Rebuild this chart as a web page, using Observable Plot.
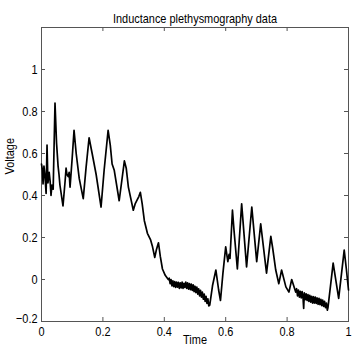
<!DOCTYPE html>
<html>
<head>
<meta charset="utf-8">
<script src="https://cdn.jsdelivr.net/npm/d3@7"></script>
<script src="https://cdn.jsdelivr.net/npm/@observablehq/plot@0.6"></script>
<style>
  html, body { margin: 0; padding: 0; background: #fff; }
</style>
</head>
<body>
<div id="chart"></div>
<script>
const title = "Inductance plethysmography data";
const xLabel = "Time";
const yLabel = "Voltage";
const xTicks = [0, 0.2, 0.4, 0.6, 0.8, 1];
const yTicks = [-0.2, 0, 0.2, 0.4, 0.6, 0.8, 1];

const times = [
  0.000, 0.003, 0.005, 0.008, 0.011, 0.015, 0.018, 0.021, 0.025, 0.028, 0.031, 0.034, 0.038,
  0.044, 0.049, 0.054, 0.057, 0.060, 0.070, 0.077, 0.080, 0.083, 0.087, 0.090, 0.093, 0.100,
  0.106, 0.113, 0.123, 0.136, 0.145, 0.155, 0.165, 0.178, 0.194, 0.204, 0.217, 0.224, 0.230,
  0.237, 0.253, 0.270, 0.276, 0.283, 0.299, 0.305, 0.312, 0.317, 0.322, 0.328, 0.335, 0.345,
  0.355, 0.361, 0.369, 0.374, 0.381, 0.387, 0.394, 0.403, 0.413,
  0.416, 0.419, 0.422, 0.425, 0.428, 0.431, 0.434, 0.437, 0.440, 0.443, 0.446, 0.449, 0.452,
  0.455, 0.458, 0.461, 0.464, 0.467, 0.470, 0.473, 0.476, 0.479, 0.482, 0.485, 0.488, 0.491,
  0.494, 0.497, 0.500, 0.503, 0.506, 0.509, 0.512, 0.515, 0.518, 0.521, 0.524, 0.527, 0.530,
  0.533, 0.536, 0.539, 0.542, 0.545, 0.548,
  0.557, 0.568, 0.577, 0.583, 0.591, 0.600, 0.607, 0.611, 0.614, 0.622, 0.627, 0.638, 0.652,
  0.668, 0.685, 0.701, 0.714, 0.733, 0.747, 0.753, 0.763, 0.773, 0.782, 0.796, 0.806, 0.815,
  0.828,
  0.831, 0.834, 0.837, 0.840, 0.843, 0.846, 0.849, 0.852, 0.854, 0.856, 0.859, 0.862, 0.865,
  0.868, 0.871, 0.874, 0.877, 0.880, 0.883, 0.886, 0.889, 0.892, 0.895, 0.898, 0.901, 0.904,
  0.907, 0.910, 0.913, 0.916, 0.919, 0.922, 0.925, 0.928, 0.931, 0.933,
  0.950, 0.968, 0.986, 0.993, 1.000
];
const voltages = [
  0.55, 0.52, 0.455, 0.54, 0.50, 0.41, 0.64, 0.46, 0.51, 0.47, 0.40, 0.45, 0.43,
  0.84, 0.65, 0.54, 0.50, 0.45, 0.35, 0.47, 0.53, 0.50, 0.49, 0.51, 0.44, 0.58,
  0.71, 0.60, 0.48, 0.385, 0.53, 0.675, 0.60, 0.50, 0.345, 0.52, 0.71, 0.64, 0.55,
  0.52, 0.375, 0.565, 0.53, 0.44, 0.33, 0.36, 0.38, 0.395, 0.415, 0.36, 0.28, 0.22,
  0.19, 0.16, 0.105, 0.14, 0.175, 0.11, 0.05, 0.02, 0.0,
  0.006, -0.020, 0.000, -0.030, -0.006, -0.034, -0.010, -0.038, -0.012, -0.036, -0.014, -0.042, -0.016,
  -0.040, -0.012, -0.042, -0.018, -0.038, -0.012, -0.042, -0.016, -0.046, -0.020, -0.048, -0.022, -0.052,
  -0.026, -0.058, -0.032, -0.062, -0.036, -0.070, -0.044, -0.078, -0.052, -0.084, -0.060, -0.094, -0.070,
  -0.104, -0.080, -0.114, -0.092, -0.126, -0.122,
  -0.03, 0.045, -0.05, -0.10, 0.03, 0.155, 0.085, 0.12, 0.10, 0.33, 0.235, 0.05, 0.36,
  0.06, 0.345, 0.085, 0.265, 0.03, 0.205, 0.15, 0.045, -0.02, 0.045, -0.035, -0.06, 0.0,
  -0.06,
  -0.044, -0.078, -0.050, -0.084, -0.056, -0.088, -0.058, -0.090, -0.138, -0.064, -0.096, -0.068, -0.100,
  -0.072, -0.104, -0.076, -0.108, -0.080, -0.112, -0.082, -0.112, -0.084, -0.114, -0.088, -0.118, -0.090,
  -0.120, -0.094, -0.124, -0.098, -0.128, -0.104, -0.134, -0.112, -0.146, -0.135,
  0.078, -0.09, 0.14, 0.05, -0.05
];

const data = times.map((t, i) => ({t, v: voltages[i]}));
const fmt = d => d < 0 ? "\u2212" + String(-d) : String(d);
const font = "'Liberation Sans', Arial, Helvetica, sans-serif";
const fs = 13.5;
const yMin = yTicks[0];

const plot = Plot.plot({
  width: 353,
  height: 355,
  marginLeft: 41,
  marginRight: 5,
  marginTop: 27,
  marginBottom: 34,
  style: {fontFamily: font, fontSize: fs + "px", background: "#fff", color: "#000", overflow: "visible"},
  x: {domain: [0, 1]},
  y: {domain: [-0.2, 1.2]},
  marks: [
    Plot.frame({stroke: "#555", strokeWidth: 1}),
    Plot.tickX(xTicks, {x: d => d, insetTop: 290, stroke: "#555"}),
    Plot.tickX(xTicks, {x: d => d, insetBottom: 290, stroke: "#555"}),
    Plot.tickY(yTicks, {y: d => d, insetRight: 303, stroke: "#555"}),
    Plot.tickY(yTicks, {y: d => d, insetLeft: 303, stroke: "#555"}),
    Plot.axisX({ticks: xTicks, tickSize: 0, tickPadding: 5, tickFormat: fmt, label: null, fontSize: fs}),
    Plot.axisY({ticks: yTicks.filter(d => d !== yMin), tickSize: 0, tickPadding: 4, tickFormat: fmt, label: null, fontSize: fs}),
    Plot.axisY({ticks: [yMin], tickSize: 0, tickPadding: 4, tickFormat: fmt, label: null, fontSize: fs, dy: -3}),
    Plot.line(data, {x: "t", y: "v", stroke: "#000", strokeWidth: 1.7, strokeLinejoin: "round"}),
    Plot.text([title], {frameAnchor: "top", dy: -14, fontSize: fs, fill: "#000"}),
    Plot.text([xLabel], {frameAnchor: "bottom", dy: 22, fontSize: fs, fill: "#000"}),
    Plot.text([yLabel], {frameAnchor: "left", dx: -32, rotate: -90, fontSize: fs, fill: "#000"})
  ]
});

document.getElementById("chart").appendChild(plot);

// Narrow the glyphs horizontally (Helvetica-Narrow look of the original) without moving anchors.
plot.querySelectorAll("text").forEach(el => {
  const len = el.getComputedTextLength();
  if (len > 0) {
    el.setAttribute("textLength", (len * 0.81).toFixed(2));
    el.setAttribute("lengthAdjust", "spacingAndGlyphs");
  }
});
</script>
</body>
</html>
